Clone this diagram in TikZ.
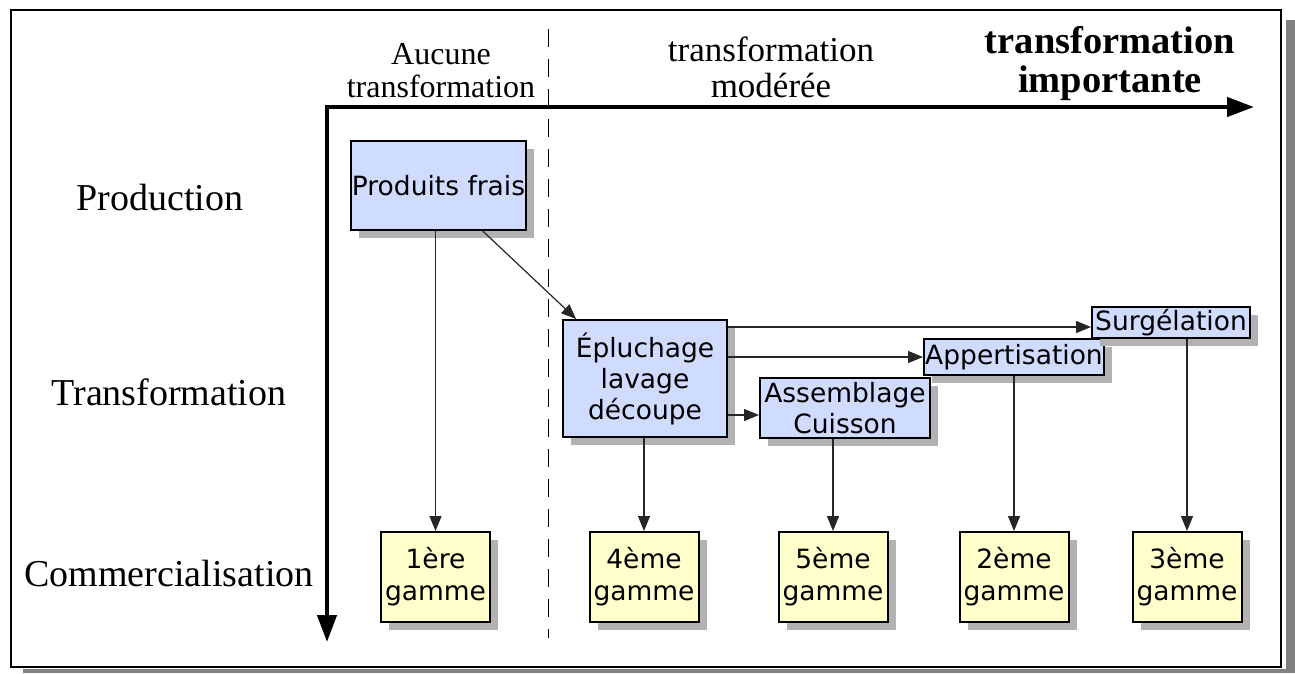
\documentclass[tikz,border=0pt]{standalone}
\usepackage{fontspec}
\setmainfont{Liberation Serif}
\newfontfamily\boxfont{DejaVu Sans}
\usetikzlibrary{arrows.meta,shadows,calc}
\definecolor{boxblue}{RGB}{207,219,255}
\definecolor{boxyellow}{RGB}{255,255,204}
\begin{document}
\begin{tikzpicture}[x=1pt,y=-1pt,
  sh/.style={drop shadow={shadow xshift=8pt,shadow yshift=-8pt,fill=black!30,opacity=1}},
  bluebox/.style={draw, line width=2pt, fill=boxblue, inner sep=0pt, align=center,
    font=\boxfont\fontsize{26.5}{31}\selectfont, sh},
  gambox/.style={draw, line width=2pt, fill=boxyellow, inner sep=0pt, align=center,
    minimum width=109pt, minimum height=90pt,
    font=\boxfont\fontsize{26.5}{32}\selectfont, sh},
  rowlab/.style={inner sep=0pt, font=\fontsize{38}{44}\selectfont},
  arr/.style={line width=1.2pt, draw=black!85, -{Triangle[length=15pt,width=12pt]}},
  axisline/.style={line width=4.3pt, {Triangle[length=27pt,width=19pt]}-{Triangle[length=27pt,width=19pt]}},
  sep/.style={line width=1pt, dash pattern=on 18pt off 12pt}
]
\useasboundingbox (0,0) rectangle (1295,673);
% frame with shadow
\fill[black!50] (1286,20) rectangle (1295,673);
\fill[black!50] (23,669) rectangle (1295,673);
\draw[line width=2pt, fill=white] (10.5,9.5) rectangle (1281,667);

% header texts
\node[inner sep=0pt, align=center, font=\fontsize{32}{33}\selectfont] (h1) at (441,71) {Aucune\\transformation};
\node[inner sep=0pt, align=center, font=\fontsize{35}{36}\selectfont] (h2) at (771,67) {transformation\\modérée};
\node[inner sep=0pt, align=center, font=\bfseries\fontsize{38.5}{39}\selectfont] (h3) at (1110,64) {transformation\\importante};

% row labels
\node[rowlab] (r1) at (160,197) {Production};
\node[rowlab] (r2) at (169,392) {Transformation};
\node[rowlab] (r3) at (169,573) {Commercialisation};

% separator
\coordinate (d1) at (548,29);
\coordinate (d2) at (548,638);
\draw[sep] (d1) -- (d2);

% axes
\coordinate (O) at (327,107);
\coordinate (Xe) at (1254,107);
\coordinate (Ye) at (327,642);
\draw[axisline] (Ye) -- (O) -- (Xe);

% boxes
\node[bluebox, minimum width=175pt, minimum height=89pt] (PF) at (438.5,185.5) {Produits frais};
\node[bluebox, minimum width=164pt, minimum height=117pt] (EP) at (645,378.5) {Épluchage\\lavage\\découpe};
\node[bluebox, minimum width=170pt, minimum height=60pt] (AC) at (845,408) {Assemblage\\Cuisson};
\node[bluebox, minimum width=180pt, minimum height=36pt] (AP) at (1014,357) {Appertisation};
\node[bluebox, minimum width=158pt, minimum height=31pt] (SU) at (1171,322.5) {Surgélation};

\node[gambox] (G1) at (435.5,577) {1ère\\gamme};
\node[gambox] (G4) at (644,577) {4ème\\gamme};
\node[gambox] (G5) at (833,577) {5ème\\gamme};
\node[gambox] (G2) at (1014,577) {2ème\\gamme};
\node[gambox] (G3) at (1187,577) {3ème\\gamme};

% connectors
\coordinate (pfo) at ($(PF.south west)!0.75!(PF.south east)$);
\coordinate (epi) at ($(EP.north west)!0.085!(EP.north east)$);
\draw[arr] (pfo) -- (epi);
\draw[arr] (G1.north |- PF.south) -- (G1.north);
\draw[arr] (G4.north |- EP.south) -- (G4.north);
\draw[arr] (G5.north |- AC.south) -- (G5.north);
\draw[arr] (G2.north |- AP.south) -- (G2.north);
\draw[arr] (G3.north |- SU.south) -- (G3.north);

\coordinate (s1) at ([yshift=-4.5pt]SU.west);
\coordinate (a1) at ([yshift=-7pt]AC.west);
\draw[arr] (EP.east |- s1) -- (s1);
\draw[arr] (EP.east |- AP.west) -- (AP.west);
\draw[arr] (EP.east |- a1) -- (a1);
\end{tikzpicture}
\end{document}
